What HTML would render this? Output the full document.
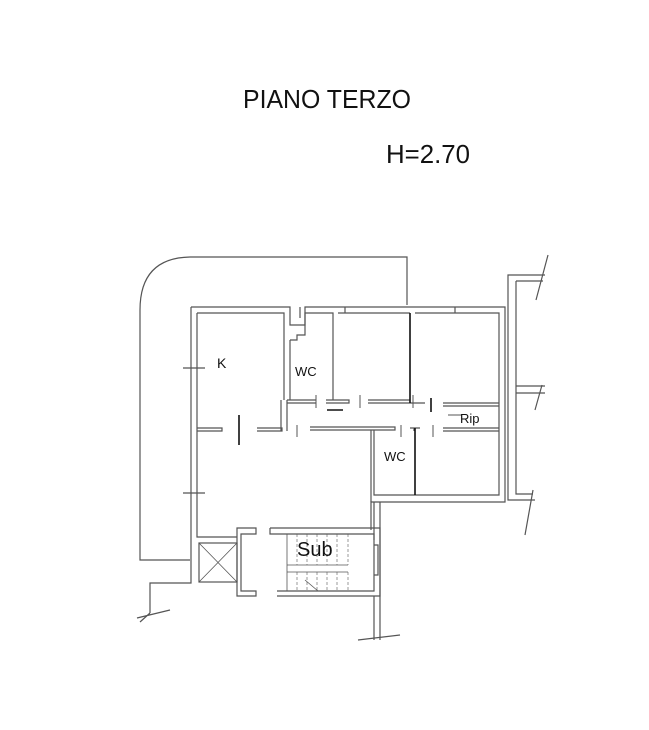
<!DOCTYPE html>
<html><head><meta charset="utf-8"><style>
html,body{margin:0;padding:0;background:#fff;}
svg{display:block;}
text{font-family:"Liberation Sans",sans-serif;fill:#111;}
</style></head><body>
<svg width="649" height="730" viewBox="0 0 649 730" xmlns="http://www.w3.org/2000/svg">
<text x="243" y="108" font-size="26" textLength="168" lengthAdjust="spacingAndGlyphs">PIANO TERZO</text>
<text x="386" y="163" font-size="26" textLength="84" lengthAdjust="spacingAndGlyphs">H=2.70</text>

<g fill="none" stroke="#555" stroke-width="1.2">
<!-- outer terrace -->
<path d="M407 305 V257 H190 Q140 258 140 310 V560 H190"/>
<!-- main outer wall -->
<path d="M191 307 H290 V325 H305 V307 H505 V502 H371 V530"/>
<path d="M197 313 H284 V400"/>
<path d="M290 340 V400"/>
<path d="M290 340 H297 V335 H305 V313 H333 V400"/>
<path d="M338 313 H410"/>
<path d="M415 313 H499 V495 H374 V430"/>
<path d="M191 307 V350 M197 313 V350 M191 385 V583 H150 V613 M197 385 V537 H237"/>
<path d="M191 350 V385 M197 350 V385"/>
<!-- window marks -->
<path d="M183 368 H205 M183 493 H205 M300 307 V318 M455 307 V313 M345 307 V313"/>
<!-- kitchen bottom wall -->
<path d="M197 428 H222 V431 H197 M257 428 H282 V431 H257"/>
<path d="M281 400 V431 M287 400 V431 M287 400 H316 M287 403 H316"/>
<path d="M326 400 H349 V403 H326 M368 400 H410 M368 403 H410"/>
<path d="M310 427 H395 V430 H310"/>
<path d="M410 403 H425 M443 403 H499 M443 406 H499 M443 428 H499 M443 431 H499"/>
<path d="M414 428 V431 M410 428 H420"/>
<path d="M371 430 V502"/>
<path d="M380 502 V540 M374 502 V540"/>
<!-- lift -->
<rect x="199" y="543" width="38" height="39"/>
<path d="M199 543 L237 582 M237 543 L199 582" stroke-width="0.8"/>
<!-- stair block -->
<path d="M237 528 H256 V534 H241 V591 H256 V596 H237 Z"/>
<path d="M270 528 H380 V596 H277"/>
<path d="M270 528 V534 H374 V591 H277"/>
<path d="M380 540 V640 M374 596 V640"/>
<path d="M374 545 H378 V575 H374"/>
<path d="M287 534 V591 M287 565 H348 M287 572 H348" stroke-width="0.8"/>
<path d="M297 534 V565 M307 534 V565 M317 534 V565 M327 534 V565 M337 534 V565 M348 534 V565 M297 572 V591 M307 572 V591 M317 572 V591 M327 572 V591 M337 572 V591 M348 572 V591" stroke-width="0.6" stroke-dasharray="3,2"/>
<path d="M305 580 L318 591" stroke-width="0.8"/>
<!-- right building -->
<path d="M545 275 H508 V500 H535 M516 281 H543 M516 281 V494 H533 M516 386 H545 M516 393 H545"/>
<path d="M548 255 L536 300 M542 385 L535 410 M533 490 L525 535 M150 613 L140 622 M400 635 L358 640 M170 610 L137 618"/>
</g>
<g stroke="#111" stroke-width="1.6" fill="none">
<path d="M410 313 V403 M415 428 V495 M239 415 V445 M327 410 H343 M431 398 V412"/>
</g>
<g stroke="#555" stroke-width="1" fill="none">
<path d="M316 395 V408 M360 395 V408 M297 425 V437 M401 425 V437 M433 425 V437 M413 395 V408 M448 415 H462"/>
</g>
<text x="217" y="368" font-size="14">K</text>
<text x="295" y="376" font-size="13">WC</text>
<text x="384" y="461" font-size="13">WC</text>
<text x="460" y="423" font-size="13">Rip</text>
<text x="297" y="556" font-size="20">Sub</text>
</svg>
</body></html>
